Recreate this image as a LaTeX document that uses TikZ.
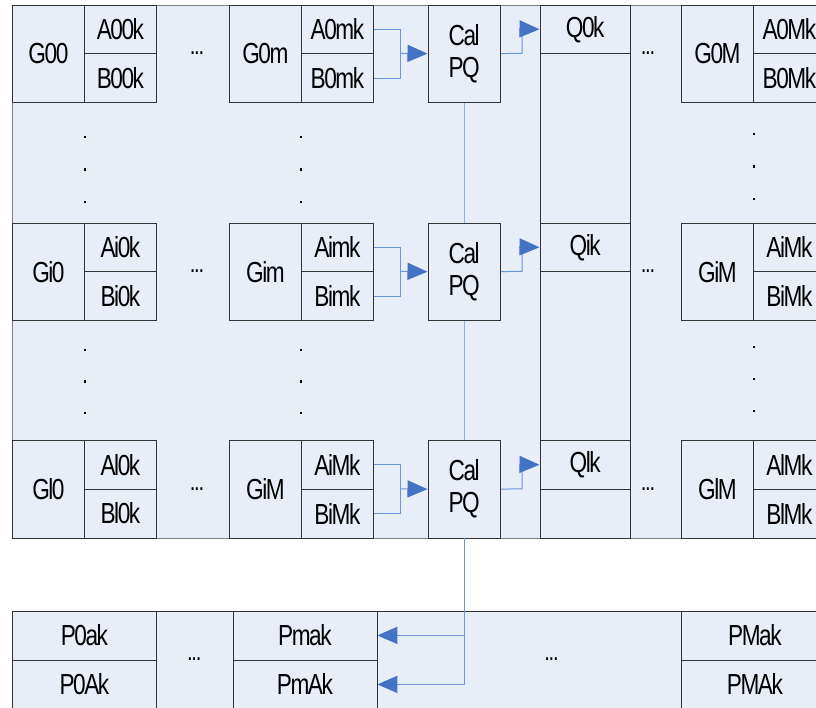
\documentclass[tikz,border=0pt]{standalone}
\usepackage{fontspec}
\setmainfont{Liberation Sans}[FakeStretch=0.78,LetterSpace=-5]
\usetikzlibrary{arrows.meta}
\definecolor{bgfill}{HTML}{E8EEF8}
\definecolor{arrblue}{HTML}{4472C4}
\definecolor{feedblue}{HTML}{6A96DA}
\definecolor{linkblue}{HTML}{8FB0E3}
\definecolor{downblue}{HTML}{6F98D8}
\definecolor{boxline}{HTML}{333333}
\definecolor{framegray}{HTML}{7F7F7F}
\newcommand{\celltext}{\fontsize{29}{32}\selectfont}
\newcommand{\cellnode}[6]{\node[cell,minimum width=#4pt,minimum height=#5pt] (#1) at (#2,#3) {#6};}
\newcommand{\leftpart}[8]{%
  \cellnode{ga#1}{12}{#2}{72}{97.5}{#3}
  \cellnode{aa#1}{84}{#2}{72}{48.75}{#4}
  \cellnode{ba#1}{84}{#2+48.75}{72}{48.75}{#5}
  \node[dotstext] (da#1) at (197,#2+48.75) {...};
  \cellnode{gb#1}{229}{#2}{72}{97.5}{#6}
  \cellnode{ab#1}{301}{#2}{72}{48.75}{#7}
  \cellnode{bb#1}{301}{#2+48.75}{72}{48.75}{#8}
  \cellnode{cal#1}{427.5}{#2}{72.5}{97.5}{Cal\\PQ}
}
\newcommand{\rightpart}[6]{%
  \cellnode{q#1}{539.5}{#2}{90.5}{48.75}{#3}
  \node[dotstext] (db#1) at (648,#2+48.75) {...};
  \cellnode{gc#1}{681}{#2}{72}{97.5}{#4}
  \cellnode{ac#1}{753}{#2}{72}{48.75}{#5}
  \cellnode{bc#1}{753}{#2+48.75}{72}{48.75}{#6}
  % connectors
  \coordinate (j#1) at (400,#2+48.75);
  \coordinate (k#1) at (522,#2+48.75);
  \coordinate (t#1) at (519,#2+24.375);
  \draw[feed] (ab#1.east) -| (j#1);
  \draw[feed] (bb#1.east) -| (j#1);
  \draw[arr] (j#1) -- (cal#1.west);
  \draw[feed] (cal#1.east) -- (k#1) |- (t#1);
  \draw[arr] (t#1) -- (q#1.west);
}
\begin{document}
\begin{tikzpicture}[x=1pt,y=-1pt,
  cell/.style={draw=boxline,line width=0.8pt,fill=bgfill,inner sep=0pt,anchor=north west,align=center,font=\celltext},
  frame/.style={draw=framegray,line width=1.2pt,fill=bgfill,inner sep=0pt,anchor=north west},
  dotstext/.style={font=\fontsize{26}{28}\selectfont,inner sep=0pt},
  feed/.style={draw=feedblue,line width=1pt},
  arr/.style={draw=feedblue,line width=1pt,-{Triangle[length=20pt,width=17pt,color=arrblue,fill=arrblue]}},
  vlink/.style={draw=linkblue,line width=1.2pt},
  down/.style={draw=downblue,line width=1.2pt,-{Triangle[length=20pt,width=17pt,color=arrblue,fill=arrblue]}}]
\useasboundingbox (0,0) rectangle (816,707);
\clip (0,0) rectangle (816,707);
\fill[white] (0,0) rectangle (816,707);
% frames
\node[frame,minimum width=828pt,minimum height=533pt] (mainframe) at (12,4.5) {};
\node[cell,minimum width=90.5pt,minimum height=533pt] (qcol) at (539.5,4.5) {};
\node[frame,draw=boxline,line width=0.8pt,minimum width=828pt,minimum height=110pt] (bframe) at (12,610.5) {};
% rows
\leftpart{1}{4.5}{G00}{A00k}{B00k}{G0m}{A0mk}{B0mk}
\rightpart{1}{4.5}{Q0k}{G0M}{A0Mk}{B0Mk}
\leftpart{2}{222.5}{Gi0}{Ai0k}{Bi0k}{Gim}{Aimk}{Bimk}
\rightpart{2}{222.5}{Qik}{GiM}{AiMk}{BiMk}
\leftpart{3}{440}{Gl0}{Al0k}{Bl0k}{GiM}{AiMk}{BiMk}
\rightpart{3}{440}{Qlk}{GlM}{AlMk}{BlMk}
% vertical dots
\foreach \yy in {137,169.5,202,350,381.5,413} {
  \fill (85-1.3,\yy-1.3) rectangle ++(2.6,2.6);
  \fill (301-1.3,\yy-1.3) rectangle ++(2.6,2.6);
}
\foreach \yy in {134,166.5,199,347,379,411} {
  \fill (754-1.3,\yy-1.3) rectangle ++(2.6,2.6);
}
% bottom row
\cellnode{p0a}{12}{610.5}{144}{49}{P0ak}
\cellnode{p0A}{12}{659.5}{144}{49}{P0Ak}
\node[cell,minimum width=76.5pt,minimum height=98pt] (pdots1) at (156,610.5) {};
\node[dotstext] (pd1) at (194.25,659.5) {...};
\cellnode{pma}{232.5}{610.5}{144}{49}{Pmak}
\cellnode{pmA}{232.5}{659.5}{144}{49}{PmAk}
\node[dotstext] (pd2) at (551.5,659.5) {...};
\cellnode{pMa}{680.5}{610.5}{148}{49}{PMak}
\cellnode{pMA}{680.5}{659.5}{148}{49}{PMAk}
% vertical links
\draw[vlink] (cal1.south) -- (cal2.north);
\draw[vlink] (cal2.south) -- (cal3.north);
\draw[down] (cal3.south) |- (pma.east);
\draw[down] (cal3.south) |- (pmA.east);
\end{tikzpicture}
\end{document}
